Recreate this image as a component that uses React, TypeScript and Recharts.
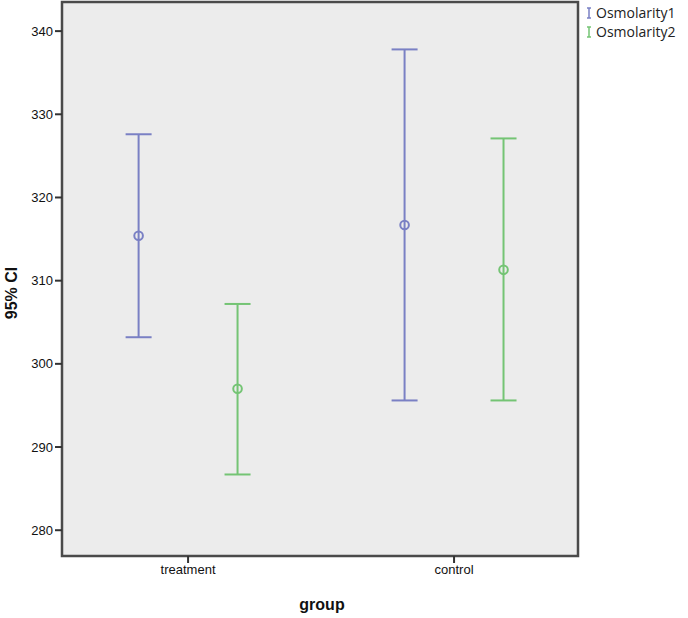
import React from 'react';
import { ComposedChart, Scatter, ErrorBar, XAxis, YAxis, ReferenceArea } from 'recharts';

const categories = ['treatment', 'control'];
const seriesNames = ['Osmolarity1', 'Osmolarity2'];
const osm1Mean = [315.4, 316.7];
const osm1Low = [303.2, 295.6];
const osm1High = [327.6, 337.8];
const osm2Mean = [297.0, 311.3];
const osm2Low = [286.7, 295.6];
const osm2High = [307.2, 327.1];
const yTicks = [280, 290, 300, 310, 320, 330, 340];

const BLUE = '#7a80c4';
const GREEN = '#74c474';
const OFFSET = 0.186;

const build = (mean: number[], low: number[], high: number[], shift: number) =>
  categories.map((c, i) => ({
    x: i + 1 + shift,
    y: mean[i],
    err: [mean[i] - low[i], high[i] - mean[i]],
    cat: c,
  }));

const data1 = build(osm1Mean, osm1Low, osm1High, -OFFSET);
const data2 = build(osm2Mean, osm2Low, osm2High, OFFSET);

const marker = (color: string) => (p: any) => (
  <circle cx={p.cx} cy={p.cy} r={4.3} fill="none" stroke={color} strokeWidth={2} />
);

const tickFont = { fontFamily: 'Liberation Sans, Arial, sans-serif', fontSize: 13, fill: '#111' };

export default function App() {
  return (
    <div style={{ position: 'absolute', left: 0, top: 0, width: 688, height: 618, background: '#fff' }}>
      <ComposedChart width={688} height={618} margin={{ top: 2, right: 110, bottom: 2, left: 2 }}>
        <XAxis
          dataKey="x"
          type="number"
          domain={[0.526, 2.466]}
          ticks={[1, 2]}
          tickFormatter={(v: number) => categories[Math.round(v) - 1]}
          height={60}
          axisLine={false}
          tickSize={7}
          tickLine={{ stroke: '#333', strokeWidth: 2 }}
          tick={tickFont}
          allowDataOverflow
        />
        <YAxis
          dataKey="y"
          type="number"
          domain={[276.9, 343.5]}
          ticks={yTicks}
          width={60}
          axisLine={false}
          tickSize={7}
          tickLine={{ stroke: '#333', strokeWidth: 2 }}
          tick={tickFont}
          allowDataOverflow
        />
        <ReferenceArea
          x1={0.526}
          x2={2.466}
          y1={276.9}
          y2={343.5}
          fill="#ececec"
          fillOpacity={1}
          stroke="#4a4a4a"
          strokeWidth={2.5}
          ifOverflow="visible"
        />
        <Scatter data={data1} fill={BLUE} isAnimationActive={false} shape={marker(BLUE)}>
          <ErrorBar dataKey="err" direction="y" width={13} stroke={BLUE} strokeWidth={2} />
        </Scatter>
        <Scatter data={data2} fill={GREEN} isAnimationActive={false} shape={marker(GREEN)}>
          <ErrorBar dataKey="err" direction="y" width={13} stroke={GREEN} strokeWidth={2} />
        </Scatter>
      </ComposedChart>
      <svg width={688} height={618} style={{ position: 'absolute', left: 0, top: 0, pointerEvents: 'none' }}>
        <text
          x={0}
          y={0}
          transform="translate(17,293) rotate(-90)"
          textAnchor="middle"
          fontFamily="Liberation Sans, Arial, sans-serif"
          fontWeight="bold"
          fontSize={16}
          fill="#111"
        >
          95% CI
        </text>
        <text
          x={322}
          y={610}
          textAnchor="middle"
          fontFamily="Liberation Sans, Arial, sans-serif"
          fontWeight="bold"
          fontSize={16}
          fill="#111"
        >
          group
        </text>
        {seriesNames.map((name, i) => {
          const color = i === 0 ? BLUE : GREEN;
          const cy = 13 + i * 19;
          return (
            <g key={name}>
              <line x1={589} x2={589} y1={cy - 5} y2={cy + 5} stroke={color} strokeWidth={1.5} />
              <line x1={587} x2={591} y1={cy - 5} y2={cy - 5} stroke={color} strokeWidth={1.5} />
              <line x1={587} x2={591} y1={cy + 5} y2={cy + 5} stroke={color} strokeWidth={1.5} />
              <text x={596} y={cy + 5} fontFamily="Open Sans, sans-serif" fontSize={14} fill="#222">
                {name}
              </text>
            </g>
          );
        })}
      </svg>
    </div>
  );
}
